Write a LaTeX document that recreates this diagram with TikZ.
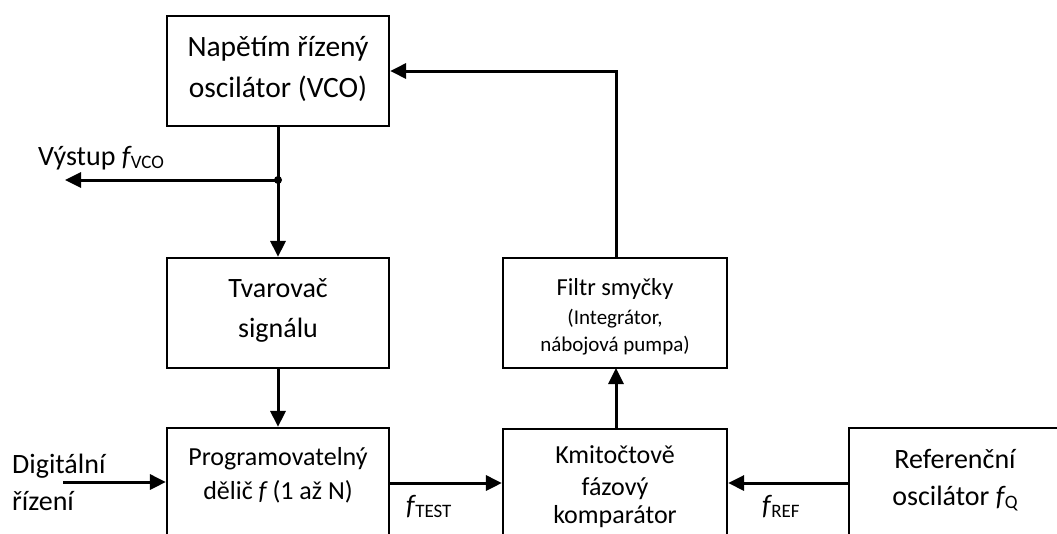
\documentclass[tikz,border=0pt]{standalone}
\usepackage{fontspec}
\setmainfont{Carlito}
\usetikzlibrary{arrows.meta}
\tikzset{
  blk/.style={draw=black, line width=2.2pt, fill=none, inner sep=0pt},
  txt/.style={anchor=base, inner sep=0pt, font=\fontsize{28}{28}\selectfont},
  btxt/.style={anchor=base, inner sep=0pt, font=\fontsize{29.5}{29.5}\selectfont},
  stxt/.style={anchor=base, inner sep=0pt, font=\fontsize{26}{26}\selectfont},
  ftxt/.style={anchor=base, inner sep=0pt, font=\fontsize{24.5}{24.5}\selectfont},
  ttxt/.style={anchor=base, inner sep=0pt, font=\fontsize{21}{21}\selectfont},
  conn/.style={line width=3pt, -{Triangle[length=16pt,width=15pt]}},
  wire/.style={line width=3pt},
}
\newcommand{\fsym}[1]{{\itshape f}\kern0.5pt{\fontsize{19}{19}\selectfont\raisebox{-3pt}{#1}}}
\begin{document}
\begin{tikzpicture}[x=1pt,y=-1pt]
\useasboundingbox (0,0) rectangle (1057,533);
\clip (0,0) rectangle (1057,533);
% boxes
\node[blk, minimum width=222pt, minimum height=110pt] (vco) at (278,71) {};
\node[blk, minimum width=222pt, minimum height=110pt] (tvar) at (278,313) {};
\node[blk, minimum width=222pt, minimum height=150pt] (prog) at (278,503) {};
\node[blk, minimum width=224pt, minimum height=110pt] (filt) at (615,313) {};
\node[blk, minimum width=224pt, minimum height=150pt] (komp) at (615,504) {};
\node[blk, minimum width=240pt, minimum height=150pt] (ref) at (969,503) {};
% texts
\node[btxt] (t1) at (278,56) {Napětím řízený};
\node[btxt] (t2) at (278,97) {oscilátor (VCO)};
\node[txt] (t3) at (278,297) {Tvarovač};
\node[txt] (t4) at (278,337) {signálu};
\node[stxt] (t5) at (278,465) {Programovatelný};
\node[stxt] (t6) at (278,499) {dělič {\itshape f} (1 až N)};
\node[ftxt] (t7) at (615,295) {Filtr smyčky};
\node[ttxt] (t8) at (615,324) {(Integrátor,};
\node[ttxt] (t9) at (615,351) {nábojová pumpa)};
\node[stxt] (t10) at (615,463) {Kmitočtově};
\node[stxt] (t11) at (615,495) {fázový};
\node[stxt] (t12) at (615,523) {komparátor};
\node[txt] (t13) at (955,468) {Referenční};
\node[txt] (t14) at (955,505) {oscilátor \fsym{Q}};
\node[txt, anchor=base west] (out) at (38,165) {Výstup \fsym{VCO}};
\node[txt, anchor=base west] (dig1) at (12,473) {Digitální};
\node[txt, anchor=base west] (dig2) at (12,510) {řízení};
\node[txt, anchor=base west] (ftest) at (406,514) {\fsym{TEST}};
\node[txt, anchor=base west] (fref) at (762,514) {\fsym{REF}};
% connectors
\coordinate (j) at (278,180);
\coordinate (oend) at (65,180);
\coordinate (dstart) at (63,482);
\coordinate (fb) at (616,71);
\draw[wire] (vco.south) -- (j);
\draw[conn] (j) -- (tvar.north);
\draw[conn] (j) -- (oend);
\fill (j) circle (4pt);
\draw[conn] (tvar.south) -- (prog.north);
\draw[conn] (dstart) -- (dstart -| prog.west);
\draw[conn] (prog.east |- 0,483) -- (komp.west |- 0,483);
\draw[conn] (ref.west |- 0,483) -- (komp.east |- 0,483);
\draw[conn] (616,429) -- (616,368);
\draw[conn] (616,258) -- (fb) -- (vco.east |- fb);
\end{tikzpicture}
\end{document}
